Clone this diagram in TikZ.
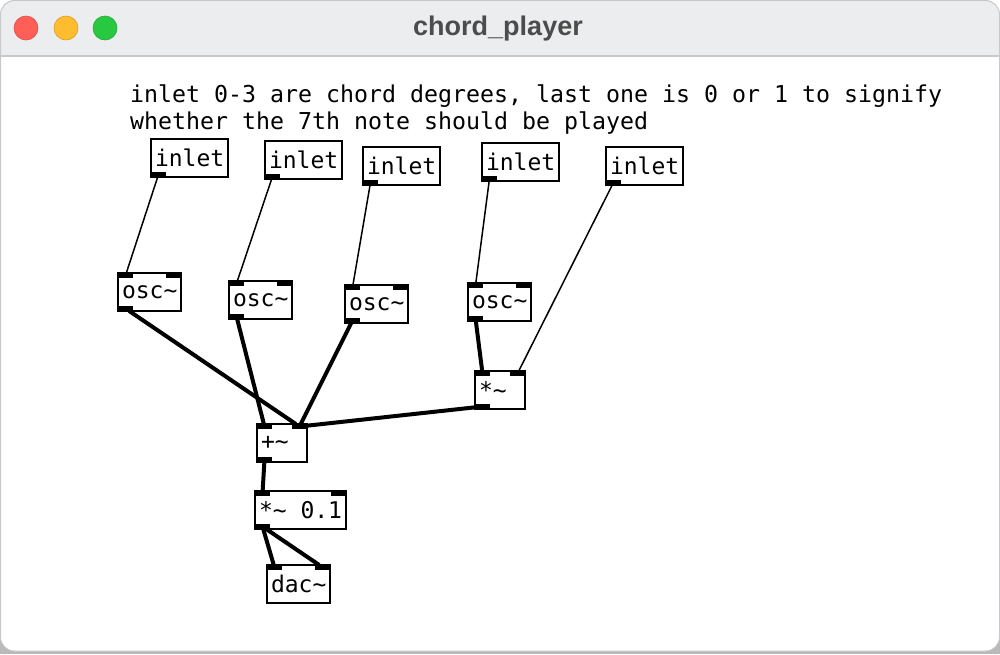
\documentclass[tikz,border=0pt]{standalone}
\usepackage{fontspec}
\newfontfamily\pdfont{DejaVu Sans Mono}
\newfontfamily\titlefont{Liberation Sans}
\usepackage{tikz}
\definecolor{titlebar}{HTML}{ECEDEF}
\definecolor{winedge}{HTML}{C9C9CB}
\definecolor{titletext}{HTML}{4C4C4C}
\definecolor{lightred}{HTML}{FF5F57}
\definecolor{lightamber}{HTML}{FEBC2E}
\definecolor{lightgreen}{HTML}{28C840}
\newcommand{\tld}{\char"007E}

\begin{document}
\begin{tikzpicture}[x=1pt,y=-1pt,
  box/.style={draw=black, line width=2pt, fill=white, anchor=north west, minimum height=38pt,
    inner xsep=4pt, inner ysep=0pt, outer sep=0pt, font=\pdfont\fontsize{23}{27}\selectfont},
  short/.style={text width=42pt},
  nub/.style={fill=black, inner sep=0pt, outer sep=0pt, minimum width=15pt, minimum height=5pt},
  ctl/.style={line width=1.5pt},
  sig/.style={line width=4pt},
  light/.style={circle, inner sep=0pt, minimum size=24pt, line width=0.6pt}]
\useasboundingbox (0,0) rectangle (1000,654);
% window
\fill[gray!55] (0,638) rectangle (1000,654);
\fill[white, rounded corners=14pt] (0.5,0.5) rectangle (999.5,651);
\fill[titlebar] (0.5,56) [rounded corners=14pt] -- (0.5,0.5) -- (999.5,0.5) [sharp corners] -- (999.5,56) -- cycle;
\draw[winedge, line width=1.2pt] (0.5,56) -- (999.5,56);
\draw[winedge, line width=1pt, rounded corners=14pt] (0.5,0.5) rectangle (999.5,651);
\node[light, fill=lightred, draw=lightred!85!black] (close) at (26,28) {};
\node[light, fill=lightamber, draw=lightamber!85!black] (mini) at (66,28) {};
\node[light, fill=lightgreen, draw=lightgreen!85!black] (zoom) at (105,28) {};
\node[font=\titlefont\bfseries\fontsize{27}{31}\selectfont, text=titletext] (title) at (498,29) {chord\_player};

% comment
\node[anchor=north west, align=left, inner sep=0pt, font=\pdfont\fontsize{23.25}{27}\selectfont] (note) at (130,84.5)
  {inlet 0-3 are chord degrees, last one is 0 or 1 to signify\\whether the 7th note should be played};

% objects
\node[box] (in1) at (151,139) {inlet};
\node[box] (in2) at (265,141) {inlet};
\node[box] (in3) at (363,147) {inlet};
\node[box] (in4) at (482,143) {inlet};
\node[box] (in5) at (606,147) {inlet};
\node[box] (osc1) at (118,273) {osc\tld};
\node[box] (osc2) at (229,281) {osc\tld};
\node[box] (osc3) at (345,285) {osc\tld};
\node[box] (osc4) at (468,283) {osc\tld};
\node[box, short] (mul) at (475,371) {*\tld};
\node[box, short] (add) at (257,424) {+\tld};
\node[box] (gain) at (255,491) {*\tld{} 0.1};
\node[box] (dac) at (267,565) {dac\tld};

% inlets and outlets
\node[nub, anchor=south west] (in1-o) at (in1.south west) {};
\node[nub, anchor=south west] (in2-o) at (in2.south west) {};
\node[nub, anchor=south west] (in3-o) at (in3.south west) {};
\node[nub, anchor=south west] (in4-o) at (in4.south west) {};
\node[nub, anchor=south west] (in5-o) at (in5.south west) {};
\node[nub, anchor=north west] (osc1-l) at (osc1.north west) {};
\node[nub, anchor=north east] (osc1-r) at (osc1.north east) {};
\node[nub, anchor=south west] (osc1-o) at (osc1.south west) {};
\node[nub, anchor=north west] (osc2-l) at (osc2.north west) {};
\node[nub, anchor=north east] (osc2-r) at (osc2.north east) {};
\node[nub, anchor=south west] (osc2-o) at (osc2.south west) {};
\node[nub, anchor=north west] (osc3-l) at (osc3.north west) {};
\node[nub, anchor=north east] (osc3-r) at (osc3.north east) {};
\node[nub, anchor=south west] (osc3-o) at (osc3.south west) {};
\node[nub, anchor=north west] (osc4-l) at (osc4.north west) {};
\node[nub, anchor=north east] (osc4-r) at (osc4.north east) {};
\node[nub, anchor=south west] (osc4-o) at (osc4.south west) {};
\node[nub, anchor=north west] (mul-l) at (mul.north west) {};
\node[nub, anchor=north east] (mul-r) at (mul.north east) {};
\node[nub, anchor=south west] (mul-o) at (mul.south west) {};
\node[nub, anchor=north west] (add-l) at (add.north west) {};
\node[nub, anchor=north east] (add-r) at (add.north east) {};
\node[nub, anchor=south west] (add-o) at (add.south west) {};
\node[nub, anchor=north west] (gain-l) at (gain.north west) {};
\node[nub, anchor=north east] (gain-r) at (gain.north east) {};
\node[nub, anchor=south west] (gain-o) at (gain.south west) {};
\node[nub, anchor=north west] (dac-l) at (dac.north west) {};
\node[nub, anchor=north east] (dac-r) at (dac.north east) {};

% connections
\draw[ctl] (in1-o) -- (osc1-l);
\draw[ctl] (in2-o) -- (osc2-l);
\draw[ctl] (in3-o) -- (osc3-l);
\draw[ctl] (in4-o) -- (osc4-l);
\draw[ctl] (in5-o) -- (mul-r);
\draw[sig] (osc1-o) -- (add-r);
\draw[sig] (osc2-o) -- (add-l);
\draw[sig] (osc3-o) -- (add-r);
\draw[sig] (osc4-o) -- (mul-l);
\draw[sig] (mul-o) -- (add-r);
\draw[sig] (add-o) -- (gain-l);
\draw[sig] (gain-o) -- (dac-l);
\draw[sig] (gain-o) -- (dac-r);
\end{tikzpicture}
\end{document}
